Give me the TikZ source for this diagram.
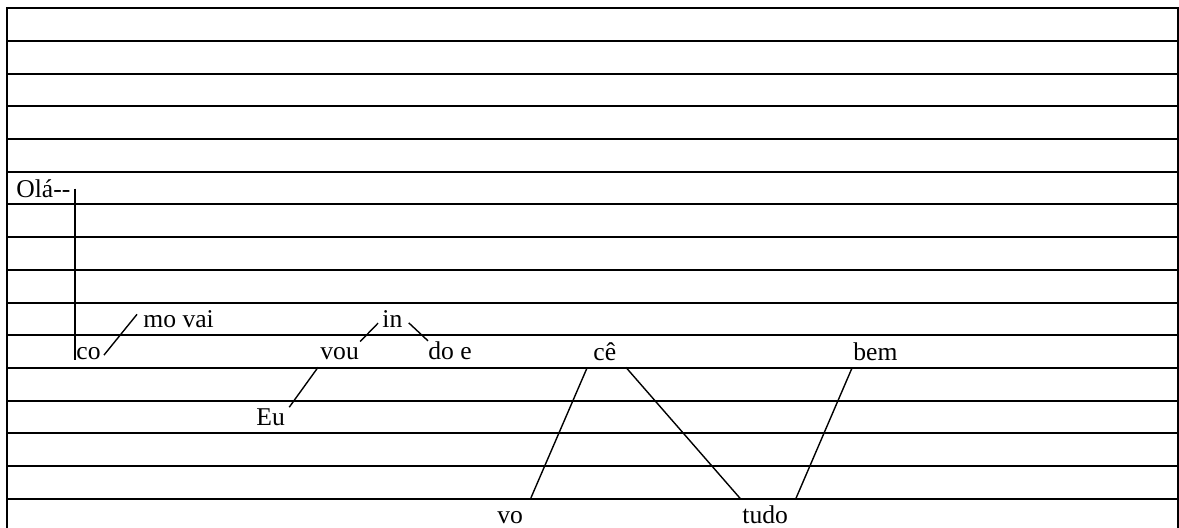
\documentclass[tikz,border=0pt]{standalone}
\usepackage{fontspec}
\setmainfont{Liberation Serif}
\usepackage{tikz}
\usetikzlibrary{calc}
\tikzset{
  word/.style={inner sep=0pt, anchor=base west, font=\fontsize{12.8}{15}\selectfont},
  rule/.style={line width=1pt, black},
  link/.style={line width=0.7pt, black},
}

\begin{document}
\begin{tikzpicture}[x=0.5pt, y=-0.5pt]
  \useasboundingbox (0,0) rectangle (1179,528);

  % Ruled sheet
  \draw[rule] (7,531) -- (7,8.3) -- (1178,8.3) -- (1178,531);
  \foreach \k in {1,...,15}
    \draw[rule] (7,8.3+32.7*\k) -- (1178,8.3+32.7*\k);

  % Words
  \node[word] (ola) at (16,197.3) {Olá-{}-};
  \node[word] (co) at (76,360) {co};
  \node[word] (movai) at (143,327.3) {mo vai};
  \node[word] (vou) at (320,360) {vou};
  \node[word] (ind) at (382,327.3) {in};
  \node[word] (doe) at (428,360) {do e};
  \node[word] (eu) at (256,425.4) {Eu};
  \node[word] (ce) at (593,360.5) {cê};
  \node[word] (bem) at (853,360.5) {bem};
  \node[word] (vo) at (497,524) {vo};
  \node[word] (tudo) at (742,524) {tudo};

  % Links
  \draw[link] ([shift={(4,0)}]ola.east) -- ([shift={(4,0)}]ola.east |- co.base);
  \draw[link] ([shift={(3,1)}]co.east) -- ([shift={(-6,-4.6)}]movai.west);
  \draw[link] ([shift={(1,-6)}]vou.north east) -- ([shift={(-4,4.4)}]ind.west);
  \draw[link] ([shift={(6,4)}]ind.east) -- ([shift={(0,-1)}]doe.north west);
  \draw[link] ([shift={(4,-1)}]eu.north east) -- ([shift={(-2,6.7)}]vou.south west);
  \draw[link] ([shift={(7.5,-13.6)}]vo.north east) -- ([shift={(-5.7,6.2)}]ce.south west);
  \draw[link] ([shift={(9.4,6.2)}]ce.south east) -- ([shift={(-2,-7.6)}]tudo.north west);
  \draw[link] ([shift={(7.7,-7.6)}]tudo.north east) -- ([shift={(-0.7,6.2)}]bem.south west);
\end{tikzpicture}
\end{document}
